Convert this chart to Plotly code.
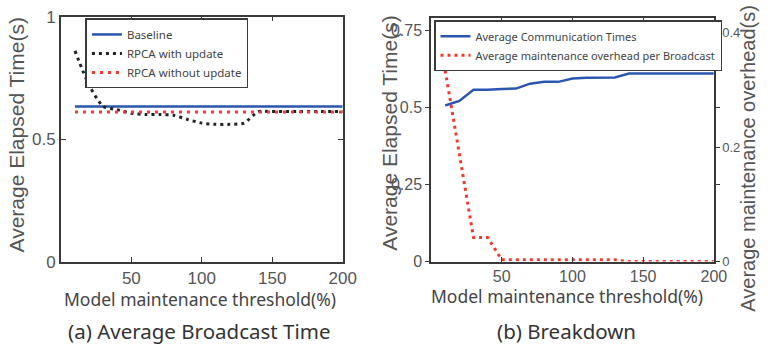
import plotly.graph_objects as go

# ---------------- data ----------------
thresholds = [10, 20, 30, 40, 50, 60, 70, 80, 90, 100,
              110, 120, 130, 140, 150, 160, 170, 180, 190, 200]

# (a) Average Broadcast Time
baseline = [0.633, 0.633, 0.633, 0.633, 0.633, 0.633, 0.633, 0.633, 0.633, 0.633,
            0.633, 0.633, 0.633, 0.633, 0.633, 0.633, 0.633, 0.633, 0.633, 0.633]
rpca_with_update = [0.86, 0.72, 0.633, 0.62, 0.605, 0.60, 0.60, 0.597, 0.58, 0.565,
                    0.56, 0.56, 0.565, 0.612, 0.612, 0.612, 0.612, 0.612, 0.612, 0.612]
rpca_without_update = [0.61, 0.61, 0.61, 0.61, 0.61, 0.61, 0.61, 0.61, 0.61, 0.61,
                       0.61, 0.61, 0.61, 0.61, 0.61, 0.61, 0.61, 0.61, 0.61, 0.61]

# (b) Breakdown
comm_times = [0.507, 0.522, 0.558, 0.558, 0.561, 0.562, 0.578, 0.584, 0.584, 0.595,
              0.597, 0.597, 0.598, 0.611, 0.611, 0.611, 0.611, 0.611, 0.611, 0.611]
maint_overhead = [0.334, 0.19, 0.042, 0.042, 0.003, 0.003, 0.003, 0.003, 0.003, 0.003,
                  0.003, 0.003, 0.003, 0.0, 0.0, 0.0, 0.0, 0.0, 0.0, 0.0]

x_ticks = [50, 100, 150, 200]
ya_ticks = [0, 0.5, 1]
ya_ticktext = ["0", "0.5", "1"]
yb_ticks = [0, 0.25, 0.5, 0.75]
yb_ticktext = ["0", "0.25", "0.5", "0.75"]
yb2_ticks = [0, 0.2, 0.4]
yb2_ticktext = ["0", "0.2", "0.4"]

# ---------------- style ----------------
W, H = 774, 351
BLUE = "#2b56b0"
RED = "rgb(238,58,45)"
BLACK = "#222222"
FRAME = "#3a3a3a"
TICKC = "#555555"
ARIAL = "Liberation Sans, Arial, sans-serif"
UI = "Noto Sans, Open Sans, sans-serif"

def px_x(v):
    return v / W

def px_y(v):
    return 1 - v / H

fig = go.Figure()

fig.add_trace(go.Scatter(x=thresholds, y=baseline, mode="lines", name="Baseline",
                         line=dict(color=BLUE, width=2.5), xaxis="x", yaxis="y", legend="legend"))
fig.add_trace(go.Scatter(x=thresholds, y=rpca_with_update, mode="lines", name="RPCA with update",
                         line=dict(color=BLACK, width=3, dash="3px,4px", shape="spline", smoothing=0.6),
                         xaxis="x", yaxis="y", legend="legend"))
fig.add_trace(go.Scatter(x=thresholds, y=rpca_without_update, mode="lines", name="RPCA without update",
                         line=dict(color=RED, width=3, dash="3px,5px"), xaxis="x", yaxis="y", legend="legend"))

fig.add_trace(go.Scatter(x=thresholds, y=comm_times, mode="lines", name="Average Communication Times",
                         line=dict(color=BLUE, width=2.5), xaxis="x2", yaxis="y2", legend="legend2"))
fig.add_trace(go.Scatter(x=thresholds, y=maint_overhead, mode="lines",
                         name="Average maintenance overhead per Broadcast",
                         line=dict(color=RED, width=3, dash="3px,4px"), xaxis="x2", yaxis="y3", legend="legend2"))

axis_common = dict(showline=True, linecolor=FRAME, linewidth=1.5, showgrid=False, zeroline=False,
                   ticks="inside", ticklen=5, tickwidth=1, tickcolor=FRAME, ticklabeloverflow="allow",
                   tickfont=dict(family=ARIAL, size=17, color=TICKC))

fig.update_layout(
    width=W, height=H,
    margin=dict(l=0, r=0, t=0, b=0),
    paper_bgcolor="white", plot_bgcolor="white",
    xaxis=dict(axis_common, domain=[px_x(62), px_x(349)], range=[0, 200], tickvals=x_ticks,
               anchor="y", mirror="ticks"),
    yaxis=dict(axis_common, domain=[px_y(267), px_y(8)], range=[0, 1], tickvals=ya_ticks,
               ticktext=ya_ticktext, anchor="x", mirror="ticks"),
    xaxis2=dict(axis_common, domain=[px_x(439), px_x(727)], range=[0, 200], tickvals=x_ticks,
                anchor="y2", mirror="ticks", tickfont=dict(family=ARIAL, size=16, color=TICKC)),
    yaxis2=dict(axis_common, domain=[px_y(267), px_y(10)], range=[0, 0.79], tickvals=yb_ticks,
                ticktext=yb_ticktext, anchor="x2", mirror="ticks", ticks="outside", ticklen=4,
                tickfont=dict(family=ARIAL, size=16, color=TICKC)),
    yaxis3=dict(axis_common, overlaying="y2", side="right", anchor="x2", range=[0, 0.425],
                tickvals=yb2_ticks, ticktext=yb2_ticktext, ticks="outside", ticklen=4,
                tickfont=dict(family=ARIAL, size=13, color=TICKC)),
    legend=dict(x=px_x(87), y=px_y(10), xanchor="left", yanchor="top", bgcolor="white",
                bordercolor=FRAME, borderwidth=1.5, itemwidth=30, tracegroupgap=0,
                font=dict(family=UI, size=11.5, color="#444")),
    legend2=dict(x=px_x(442), y=px_y(12), xanchor="left", yanchor="top", bgcolor="white",
                 bordercolor=FRAME, borderwidth=1.5, itemwidth=30, tracegroupgap=0,
                 font=dict(family=UI, size=11, color="#444")),
)

annotations = [
    dict(text="Average Elapsed Time(s)", x=px_x(17), y=px_y(133), textangle=-90,
         font=dict(family=ARIAL, size=21, color=TICKC)),
    dict(text="Average Elapsed Time(s)", x=px_x(397), y=px_y(131), textangle=-90,
         font=dict(family=ARIAL, size=21, color=TICKC)),
    dict(text="Average maintenance overhead(s)", x=px_x(762), y=px_y(158), textangle=-90,
         font=dict(family=ARIAL, size=20, color=TICKC)),
    dict(text="Model maintenance threshold(%)", x=px_x(204), y=px_y(307),
         font=dict(family=UI, size=17.5, color="#444")),
    dict(text="Model maintenance threshold(%)", x=px_x(577), y=px_y(303),
         font=dict(family=UI, size=17.5, color="#444")),
    dict(text="(a) Average Broadcast Time", x=px_x(203), y=px_y(340),
         font=dict(family=UI, size=20.5, color="#333")),
    dict(text="(b) Breakdown", x=px_x(577), y=px_y(340),
         font=dict(family=UI, size=20.5, color="#333")),
]
for a in annotations:
    a.update(xref="paper", yref="paper", showarrow=False, xanchor="center", yanchor="middle")
fig.update_layout(annotations=annotations)

fig.write_html("out.html")
